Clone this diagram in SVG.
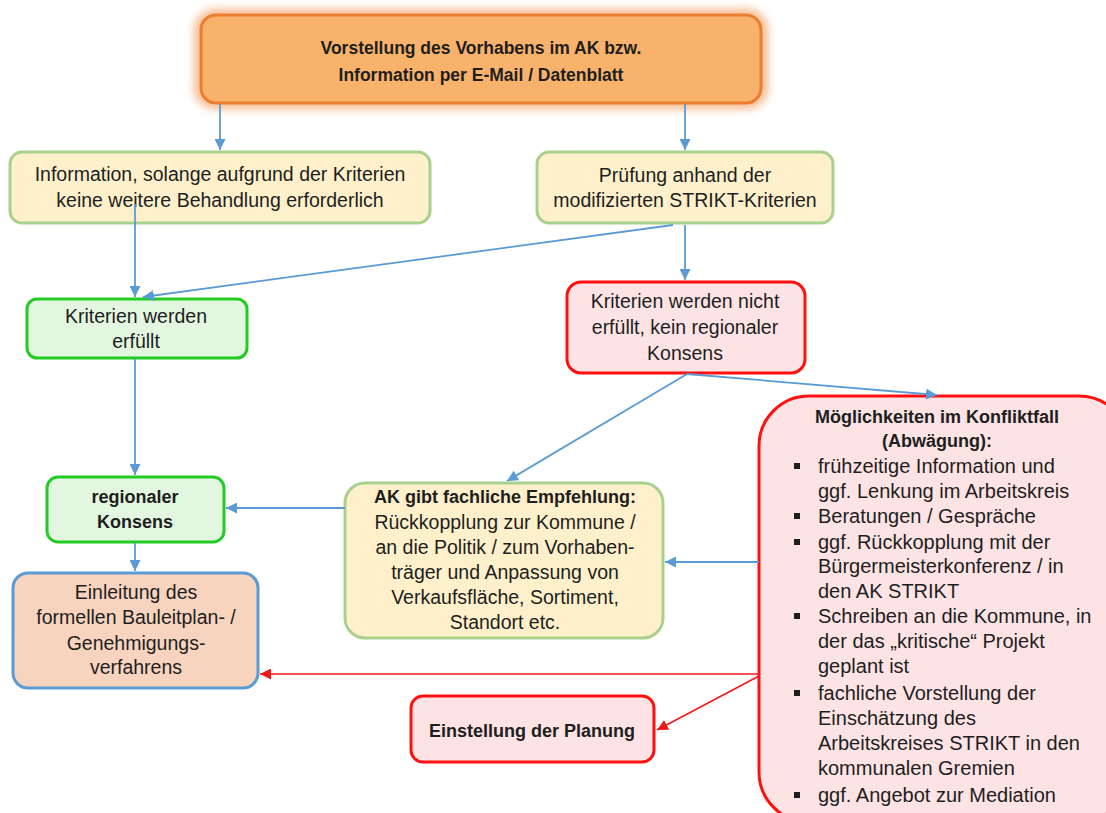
<svg xmlns="http://www.w3.org/2000/svg" width="1106" height="813" viewBox="0 0 1106 813">
<style>
text{font-family:"Liberation Sans",Arial,sans-serif;fill:#1e1e1e;}
.t{font-size:19.5px;text-anchor:middle;}
.b{font-size:18px;font-weight:bold;text-anchor:middle;}
.l{font-size:20px;}
.yel{fill:#FEF0CB;stroke:#A9D18E;stroke-width:3;}
.grn{fill:#E3F7E0;stroke:#22CC22;stroke-width:3;}
.red{fill:#FDE3E4;stroke:#FF1010;stroke-width:3;}
.bl{stroke:#5B9BD5;stroke-width:1.8;fill:none;marker-end:url(#ab);}
.rd{stroke:#F01818;stroke-width:1.6;fill:none;marker-end:url(#ar);}
</style>
<defs>
<marker id="ab" viewBox="0 0 10 10" refX="10" refY="5" markerWidth="11" markerHeight="11" markerUnits="userSpaceOnUse" orient="auto"><path d="M0,0 L10,5 L0,10 z" fill="#5B9BD5"/></marker>
<marker id="ar" viewBox="0 0 10 10" refX="10" refY="5" markerWidth="11" markerHeight="11" markerUnits="userSpaceOnUse" orient="auto"><path d="M0,0 L10,5 L0,10 z" fill="#F01818"/></marker>
<filter id="glow" x="-10%" y="-30%" width="120%" height="160%"><feGaussianBlur stdDeviation="4"/></filter>
</defs>
<rect width="1106" height="813" fill="#fff"/>

<g id="n-top">
<rect x="199" y="14" width="564" height="90" rx="16" fill="none" stroke="#F6B88A" stroke-width="10" filter="url(#glow)"/>
<rect x="201" y="15" width="560" height="88" rx="15" fill="#F9B26C" stroke="#EC7C30" stroke-width="3"/>
<text class="b" x="481" y="54" style="font-size:17.5px">Vorstellung des Vorhabens im AK bzw.</text>
<text class="b" x="481" y="81" style="font-size:17.5px">Information per E-Mail / Datenblatt</text>
</g>

<g id="n-info">
<rect class="yel" x="10" y="152" width="420" height="71" rx="12"/>
<text class="t" x="220" y="181">Information, solange aufgrund der Kriterien</text>
<text class="t" x="220" y="207">keine weitere Behandlung erforderlich</text>
</g>

<g id="n-pruefung">
<rect class="yel" x="537" y="152" width="296" height="71" rx="12"/>
<text class="t" x="685" y="182">Prüfung anhand der</text>
<text class="t" x="685" y="207">modifizierten STRIKT-Kriterien</text>
</g>

<g id="n-erfuellt">
<rect class="grn" x="27" y="299" width="220" height="59" rx="10"/>
<text class="t" x="136" y="323">Kriterien werden</text>
<text class="t" x="136" y="348">erfüllt</text>
</g>

<g id="n-nicht">
<rect class="red" x="567" y="282" width="238" height="91" rx="14"/>
<text class="t" x="685" y="308">Kriterien werden nicht</text>
<text class="t" x="685" y="334">erfüllt, kein regionaler</text>
<text class="t" x="685" y="360">Konsens</text>
</g>

<g id="n-konsens">
<rect class="grn" x="47" y="477" width="177" height="65" rx="11"/>
<text class="b" x="135" y="503">regionaler</text>
<text class="b" x="135" y="528">Konsens</text>
</g>

<g id="n-einleitung">
<rect x="13" y="573" width="245" height="115" rx="15" fill="#F8D4BF" stroke="#5B9BD5" stroke-width="3"/>
<text class="t" x="136" y="599">Einleitung des</text>
<text class="t" x="136" y="624">formellen Bauleitplan- /</text>
<text class="t" x="136" y="650">Genehmigungs-</text>
<text class="t" x="136" y="674">verfahrens</text>
</g>

<g id="n-ak">
<rect class="yel" x="345" y="483" width="318" height="155" rx="20"/>
<text class="b" x="505" y="503">AK gibt fachliche Empfehlung:</text>
<text class="t" x="505" y="529">Rückkopplung zur Kommune /</text>
<text class="t" x="505" y="554">an die Politik / zum Vorhaben-</text>
<text class="t" x="505" y="579">träger und Anpassung von</text>
<text class="t" x="505" y="604">Verkaufsfläche, Sortiment,</text>
<text class="t" x="505" y="629">Standort etc.</text>
</g>

<g id="n-einstellung">
<rect class="red" x="411" y="696" width="243" height="66" rx="12"/>
<text class="b" x="532" y="737">Einstellung der Planung</text>
</g>

<g id="n-konflikt">
<rect class="red" x="759" y="396" width="370" height="426" rx="50"/>
<text class="b" x="937" y="423">Möglichkeiten im Konfliktfall</text>
<text class="b" x="937" y="447">(Abwägung):</text>
<g fill="#1e1e1e">
<rect x="794" y="463" width="6" height="6"/>
<rect x="794" y="513" width="6" height="6"/>
<rect x="794" y="539" width="6" height="6"/>
<rect x="794" y="613" width="6" height="6"/>
<rect x="794" y="690" width="6" height="6"/>
<rect x="794" y="792" width="6" height="6"/>
</g>
<text class="l" x="818" y="473">frühzeitige Information und</text>
<text class="l" x="818" y="498">ggf. Lenkung im Arbeitskreis</text>
<text class="l" x="818" y="523">Beratungen / Gespräche</text>
<text class="l" x="818" y="549">ggf. Rückkopplung mit der</text>
<text class="l" x="818" y="573">Bürgermeisterkonferenz / in</text>
<text class="l" x="818" y="598">den AK STRIKT</text>
<text class="l" x="818" y="623">Schreiben an die Kommune, in</text>
<text class="l" x="818" y="648">der das „kritische“ Projekt</text>
<text class="l" x="818" y="673">geplant ist</text>
<text class="l" x="818" y="700">fachliche Vorstellung der</text>
<text class="l" x="818" y="725">Einschätzung des</text>
<text class="l" x="818" y="750">Arbeitskreises STRIKT in den</text>
<text class="l" x="818" y="775">kommunalen Gremien</text>
<text class="l" x="818" y="802">ggf. Angebot zur Mediation</text>
</g>

<g id="connectors">
<line class="bl" x1="220" y1="104" x2="220" y2="150"/>
<line class="bl" x1="685" y1="104" x2="685" y2="150"/>
<line class="bl" x1="135" y1="204" x2="135" y2="297"/>
<line class="bl" x1="673" y1="225" x2="143" y2="297"/>
<line class="bl" x1="685" y1="225" x2="685" y2="280"/>
<line class="bl" x1="135" y1="359" x2="135" y2="475"/>
<line class="bl" x1="687" y1="374" x2="937" y2="395"/>
<line class="bl" x1="687" y1="374" x2="507" y2="481"/>
<line class="bl" x1="345" y1="508" x2="226" y2="508"/>
<line class="bl" x1="135" y1="543" x2="135" y2="571"/>
<line class="bl" x1="759" y1="562" x2="665" y2="562"/>
<line class="rd" x1="759" y1="674" x2="260" y2="674"/>
<line class="rd" x1="759" y1="676" x2="657" y2="730"/>
</g>
</svg>
